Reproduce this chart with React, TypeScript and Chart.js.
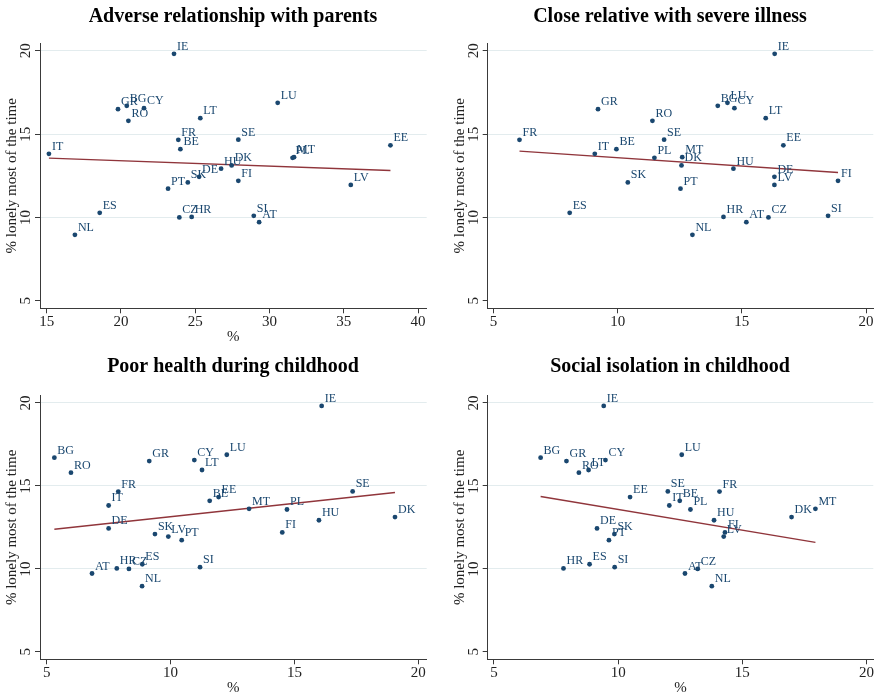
import React, { useEffect, useRef } from "react";
import { Chart, registerables } from "chart.js";

Chart.register(...registerables);

// Country codes, shared by all four panels
const countries = [
  "AT", "BE", "BG", "CY", "CZ", "DE", "DK", "EE", "ES", "FI", "FR", "GR", "HR", "HU",
  "IE", "IT", "LT", "LU", "LV", "MT", "NL", "PL", "PT", "RO", "SE", "SI", "SK",
];

// % lonely most of the time (y for every panel)
const lonely = [
  9.72, 14.1, 16.7, 16.56, 10.0, 12.44, 13.12, 14.33, 10.28, 12.2, 14.66, 16.5, 10.03, 12.93,
  19.82, 13.82, 15.96, 16.88, 11.95, 13.62, 8.96, 13.58, 11.73, 15.8, 14.67, 10.1, 12.1,
];

// % reporting each childhood circumstance (x per panel)
const adverseParents = [
  29.3, 24.0, 20.39, 21.55, 23.93, 25.26, 27.45, 38.14, 18.57, 27.9, 23.86, 19.8, 24.76, 26.74,
  23.57, 15.15, 25.34, 30.55, 35.47, 31.65, 16.9, 31.55, 23.17, 20.5, 27.9, 28.94, 24.5,
];
const relativeIllness = [
  15.18, 9.95, 14.03, 14.7, 16.07, 16.31, 12.57, 16.67, 8.07, 18.87, 6.05, 9.21, 14.26, 14.66,
  16.32, 9.08, 15.96, 14.42, 16.31, 12.6, 13.01, 11.48, 12.53, 11.4, 11.87, 18.47, 10.41,
];
const poorHealth = [
  6.83, 11.58, 5.31, 10.96, 8.32, 7.5, 19.06, 11.94, 8.86, 14.51, 7.89, 9.14, 7.83, 15.99,
  16.1, 7.5, 11.27, 12.27, 9.91, 13.17, 8.85, 14.7, 10.45, 5.98, 17.35, 11.19, 9.37,
];
const socialIsolation = [
  12.69, 12.48, 6.88, 9.49, 13.2, 9.15, 16.98, 10.48, 8.85, 14.3, 14.08, 7.92, 7.8, 13.86,
  9.42, 12.06, 8.81, 12.56, 14.25, 17.94, 13.77, 12.91, 9.63, 8.42, 12.0, 9.86, 9.85,
];

// Fitted linear trend per panel (intercept, slope), same order as the panels
const fitIntercepts = [14.047, 14.584, 11.537, 16.077];
const fitSlopes = [-0.0322, -0.0998, 0.1607, -0.2495];

const yTicks = [5, 10, 15, 20];
const xTicksParents = [15, 20, 25, 30, 35, 40];
const xTicksOther = [5, 10, 15, 20];

const panelTitles = [
  "Adverse relationship with parents",
  "Close relative with severe illness",
  "Poor health during childhood",
  "Social isolation in childhood",
];
const yTitle = "% lonely most of the time";
const xTitle = "%";

const W = 440;
const H = 347;
const NAVY = "#1a476f";
const FIT = "#90353b";
const AXIS = "#3a3a3a";
const GRID = "#e3ecee";
const SERIF = "'Liberation Serif', 'Times New Roman', serif";

type Panel = {
  title: string;
  xs: number[];
  fit: number;
  xTicks: number[];
  xMin: number;
  xMax: number;
  showXTitle: boolean;
  left: number;
  top: number;
  titleX: number;
  titleY: number;
  area: { l: number; r: number; t: number; b: number };
};

const panels: Panel[] = [
  {
    title: panelTitles[0], xs: adverseParents, fit: 0, xTicks: xTicksParents, xMin: 14.55, xMax: 40.58,
    showXTitle: true, left: 0, top: 0, titleX: 233, titleY: 17,
    area: { l: 40, r: 426.7, t: 43.3, b: 308.3 },
  },
  {
    title: panelTitles[1], xs: relativeIllness, fit: 1, xTicks: xTicksOther, xMin: 4.77, xMax: 20.29,
    showXTitle: false, left: 440, top: 0, titleX: 230, titleY: 17,
    area: { l: 47.7, r: 433.3, t: 43.3, b: 308.3 },
  },
  {
    title: panelTitles[2], xs: poorHealth, fit: 2, xTicks: xTicksOther, xMin: 4.73, xMax: 20.34,
    showXTitle: true, left: 0, top: 347, titleX: 233, titleY: 20,
    area: { l: 40, r: 426.7, t: 48.5, b: 312.3 },
  },
  {
    title: panelTitles[3], xs: socialIsolation, fit: 3, xTicks: xTicksOther, xMin: 4.75, xMax: 20.27,
    showXTitle: true, left: 440, top: 347, titleX: 230, titleY: 20,
    area: { l: 47.7, r: 433.3, t: 48.5, b: 312.3 },
  },
];

// Trend line across the observed range of x
function fitLine(xs: number[], k: number) {
  const a = fitIntercepts[k];
  const b = fitSlopes[k];
  const lo = Math.min(...xs);
  const hi = Math.max(...xs);
  return [
    { x: lo, y: a + b * lo },
    { x: hi, y: a + b * hi },
  ];
}

const X_SCALE_H = 4;

function PanelChart({ panel }: { panel: Panel }) {
  const ref = useRef<HTMLCanvasElement | null>(null);

  useEffect(() => {
    const canvas = ref.current;
    if (!canvas) return;
    const { area } = panel;

    const textPlugin = {
      id: "panelText",
      afterDatasetsDraw(chart: any) {
        const ctx = chart.ctx as CanvasRenderingContext2D;
        const meta = chart.getDatasetMeta(0);
        ctx.save();
        ctx.fillStyle = NAVY;
        ctx.font = `12px ${SERIF}`;
        ctx.textAlign = "left";
        ctx.textBaseline = "alphabetic";
        meta.data.forEach((el: any, i: number) => {
          ctx.fillText(countries[i], el.x + 3, el.y - 4);
        });
        ctx.restore();
      },
      afterDraw(chart: any) {
        const ctx = chart.ctx as CanvasRenderingContext2D;
        const ca = chart.chartArea;
        const xs = chart.scales.x;
        const ys = chart.scales.y;
        ctx.save();
        // panel title
        ctx.fillStyle = "#000";
        ctx.font = `bold 20px ${SERIF}`;
        ctx.textAlign = "center";
        ctx.textBaseline = "middle";
        ctx.fillText(panel.title, panel.titleX, panel.titleY);

        // y tick labels, rotated
        ctx.fillStyle = "#222";
        ctx.font = `15px ${SERIF}`;
        yTicks.forEach((v) => {
          const py = ys.getPixelForValue(v);
          ctx.save();
          ctx.translate(ca.left - 14, py);
          ctx.rotate(-Math.PI / 2);
          ctx.textAlign = "center";
          ctx.textBaseline = "middle";
          ctx.fillText(String(v), 0, 0);
          ctx.restore();
        });

        // y axis title
        ctx.save();
        ctx.translate(ca.left - 28, (ca.top + ca.bottom) / 2);
        ctx.rotate(-Math.PI / 2);
        ctx.textAlign = "center";
        ctx.textBaseline = "middle";
        ctx.fillText(yTitle, 0, 0);
        ctx.restore();

        // x tick labels
        ctx.textAlign = "center";
        ctx.textBaseline = "middle";
        panel.xTicks.forEach((v) => {
          ctx.fillText(String(v), xs.getPixelForValue(v), ca.bottom + 14);
        });
        if (panel.showXTitle) {
          ctx.fillText(xTitle, (ca.left + ca.right) / 2, ca.bottom + 29);
        }
        ctx.restore();
      },
    };

    const points = panel.xs.map((x, i) => ({ x, y: lonely[i] }));

    const chart = new Chart(canvas, {
      type: "scatter",
      data: {
        datasets: [
          {
            type: "scatter",
            data: points,
            pointRadius: 2.4,
            pointBackgroundColor: NAVY,
            pointBorderColor: NAVY,
            pointBorderWidth: 0,
          },
          {
            type: "line",
            data: fitLine(panel.xs, panel.fit),
            borderColor: FIT,
            borderWidth: 1.4,
            pointRadius: 0,
            fill: false,
          },
        ],
      } as any,
      options: {
        animation: false,
        responsive: false,
        maintainAspectRatio: false,
        devicePixelRatio: 1,
        events: [],
        layout: {
          padding: {
            left: 0,
            top: area.t,
            right: W - area.r,
            bottom: H - area.b - X_SCALE_H,
          },
        },
        plugins: {
          legend: { display: false },
          title: { display: false },
          tooltip: { enabled: false },
        },
        scales: {
          x: {
            type: "linear",
            min: panel.xMin,
            max: panel.xMax,
            afterBuildTicks: (s: any) => {
              s.ticks = panel.xTicks.map((v) => ({ value: v }));
            },
            afterFit: (s: any) => {
              s.height = X_SCALE_H;
            },
            ticks: { display: false },
            grid: {
              display: true,
              drawOnChartArea: false,
              drawTicks: true,
              tickLength: 5,
              tickColor: AXIS,
            },
            border: { display: true, color: AXIS, width: 1 },
          },
          y: {
            type: "linear",
            min: 4.55,
            max: 20.45,
            afterBuildTicks: (s: any) => {
              s.ticks = yTicks.map((v) => ({ value: v }));
            },
            afterFit: (s: any) => {
              s.width = area.l;
            },
            ticks: { display: false },
            grid: {
              display: true,
              drawOnChartArea: true,
              drawTicks: true,
              tickLength: 5,
              color: (c: any) => (c.tick && c.tick.value === 5 ? "rgba(0,0,0,0)" : GRID),
              tickColor: AXIS,
              lineWidth: 1,
            },
            border: { display: true, color: AXIS, width: 1 },
          },
        },
      } as any,
      plugins: [textPlugin],
    });

    return () => chart.destroy();
  }, [panel]);

  return (
    <canvas
      ref={ref}
      width={W}
      height={H}
      style={{ position: "absolute", left: panel.left, top: panel.top, width: W, height: H }}
    />
  );
}

export default function App() {
  return (
    <div
      style={{
        position: "absolute",
        left: 0,
        top: 0,
        width: 880,
        height: 694,
        background: "#fff",
        overflow: "hidden",
      }}
    >
      {panels.map((p) => (
        <PanelChart key={p.title} panel={p} />
      ))}
    </div>
  );
}
